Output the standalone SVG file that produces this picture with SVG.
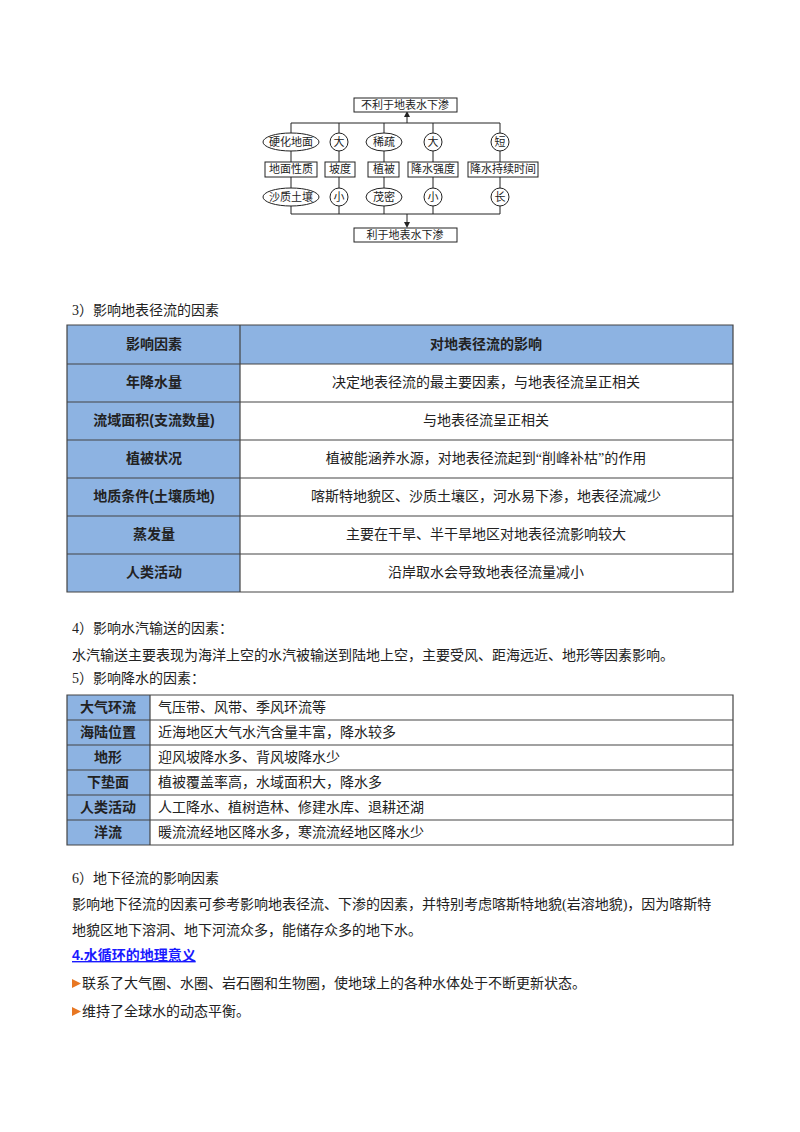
<svg xmlns="http://www.w3.org/2000/svg" width="800" height="1132" viewBox="0 0 800 1132">
<defs>
<style>
text{font-family:"Liberation Serif","Noto Sans CJK SC",serif;font-size:14px;fill:#222}
.s{font-size:11px;text-anchor:middle}
.m{text-anchor:middle}
.b{font-weight:bold;font-family:"Liberation Sans","Noto Sans CJK SC",sans-serif}
.bx{fill:#fff;stroke:#222;stroke-width:1}
.ln{stroke:#222;stroke-width:1;fill:none}
.hd{fill:#8db3e2}
.tl{stroke:#444;stroke-width:1.2;fill:none}
</style>
<marker id="a" markerWidth="6" markerHeight="6" refX="3" refY="3" orient="auto"><path d="M0,0 L6,3 L0,6 z" fill="#222"/></marker>
</defs>
<rect width="800" height="1132" fill="#fff"/>
<g id="connectors">
<path class="ln" d="M291,123 H500 M291,123 V214 M339,123 V214 M384,123 V214 M433,123 V214 M500,123 V214 M291,214 H500"/>
<path class="ln" d="M407,123 V114" marker-end="url(#a)"/>
<path class="ln" d="M407,214 V225" marker-end="url(#a)"/>
</g>
<g id="top"><rect class="bx" x="354" y="98" width="103" height="14"/><text class="s" x="405" y="109">不利于地表水下渗</text></g>
<g id="bottom"><rect class="bx" x="354" y="228" width="103" height="14"/><text class="s" x="405" y="239">利于地表水下渗</text></g>
<g id="r1">
<ellipse class="bx" cx="291" cy="142" rx="28" ry="9"/><text class="s" x="291" y="146">硬化地面</text>
<circle class="bx" cx="339" cy="142" r="9"/><text class="s" x="339" y="146">大</text>
<ellipse class="bx" cx="384" cy="142" rx="18" ry="9"/><text class="s" x="384" y="146">稀疏</text>
<circle class="bx" cx="433" cy="142" r="9"/><text class="s" x="433" y="146">大</text>
<circle class="bx" cx="500" cy="142" r="9"/><text class="s" x="500" y="146">短</text>
</g>
<g id="r2">
<rect class="bx" x="265" y="162" width="52" height="15"/><text class="s" x="291" y="173">地面性质</text>
<rect class="bx" x="325" y="162" width="30" height="15"/><text class="s" x="340" y="173">坡度</text>
<rect class="bx" x="368" y="162" width="31" height="15"/><text class="s" x="384" y="173">植被</text>
<rect class="bx" x="408" y="162" width="50" height="15"/><text class="s" x="433" y="173">降水强度</text>
<rect class="bx" x="468" y="162" width="70" height="15"/><text class="s" x="503" y="173">降水持续时间</text>
</g>
<g id="r3">
<ellipse class="bx" cx="291" cy="197" rx="28" ry="9"/><text class="s" x="291" y="201">沙质土壤</text>
<circle class="bx" cx="339" cy="197" r="9"/><text class="s" x="339" y="201">小</text>
<ellipse class="bx" cx="384" cy="197" rx="18" ry="9"/><text class="s" x="384" y="201">茂密</text>
<circle class="bx" cx="433" cy="197" r="9"/><text class="s" x="433" y="201">小</text>
<circle class="bx" cx="500" cy="197" r="9"/><text class="s" x="500" y="201">长</text>
</g>
<text x="72" y="315">3）影响地表径流的因素</text>
<g id="table1">
<rect class="hd" x="67" y="325" width="666" height="39"/>
<rect class="hd" x="67" y="364" width="173" height="228"/>
<path class="tl" d="M67,325 H733 V592 H67 Z M240,325 V592 M67,364 H733 M67,402 H733 M67,440 H733 M67,478 H733 M67,516 H733 M67,554 H733"/>
<g class="b m">
<text class="b m" x="154" y="349">影响因素</text><text class="b m" x="486" y="349">对地表径流的影响</text>
<text class="b m" x="154" y="387">年降水量</text>
<text class="b m" x="154" y="425">流域面积(支流数量)</text>
<text class="b m" x="154" y="463">植被状况</text>
<text class="b m" x="154" y="501">地质条件(土壤质地)</text>
<text class="b m" x="154" y="539">蒸发量</text>
<text class="b m" x="154" y="577">人类活动</text>
</g>
<text class="m" x="486" y="387">决定地表径流的最主要因素，与地表径流呈正相关</text>
<text class="m" x="486" y="425">与地表径流呈正相关</text>
<text class="m" x="486" y="463">植被能涵养水源，对地表径流起到“削峰补枯”的作用</text>
<text class="m" x="486" y="501">喀斯特地貌区、沙质土壤区，河水易下渗，地表径流减少</text>
<text class="m" x="486" y="539">主要在干旱、半干旱地区对地表径流影响较大</text>
<text class="m" x="486" y="577">沿岸取水会导致地表径流量减小</text>
</g>
<text x="72" y="633">4）影响水汽输送的因素：</text>
<text x="72" y="660">水汽输送主要表现为海洋上空的水汽被输送到陆地上空，主要受风、距海远近、地形等因素影响。</text>
<text x="72" y="683">5）影响降水的因素：</text>
<g id="table2">
<rect class="hd" x="67" y="695" width="83" height="150"/>
<path class="tl" d="M67,695 H733 V845 H67 Z M150,695 V845 M67,720 H733 M67,745 H733 M67,770 H733 M67,795 H733 M67,820 H733"/>
<text class="b m" x="108" y="712">大气环流</text><text x="158" y="712">气压带、风带、季风环流等</text>
<text class="b m" x="108" y="737">海陆位置</text><text x="158" y="737">近海地区大气水汽含量丰富，降水较多</text>
<text class="b m" x="108" y="762">地形</text><text x="158" y="762">迎风坡降水多、背风坡降水少</text>
<text class="b m" x="108" y="787">下垫面</text><text x="158" y="787">植被覆盖率高，水域面积大，降水多</text>
<text class="b m" x="108" y="812">人类活动</text><text x="158" y="812">人工降水、植树造林、修建水库、退耕还湖</text>
<text class="b m" x="108" y="837">洋流</text><text x="158" y="837">暖流流经地区降水多，寒流流经地区降水少</text>
</g>
<text x="72" y="883">6）地下径流的影响因素</text>
<text x="72" y="909">影响地下径流的因素可参考影响地表径流、下渗的因素，并特别考虑喀斯特地貌(岩溶地貌)，因为喀斯特</text>
<text x="72" y="935">地貌区地下溶洞、地下河流众多，能储存众多的地下水。</text>
<text x="72" y="960" class="b" style="fill:#1a1aff;text-decoration:underline">4.水循环的地理意义</text>
<path d="M72,979 L81,983.5 L72,988 z" fill="#e87722"/>
<text x="82" y="988">联系了大气圈、水圈、岩石圈和生物圈，使地球上的各种水体处于不断更新状态。</text>
<path d="M72,1007 L81,1011.5 L72,1016 z" fill="#e87722"/>
<text x="82" y="1016">维持了全球水的动态平衡。</text>
</svg>
